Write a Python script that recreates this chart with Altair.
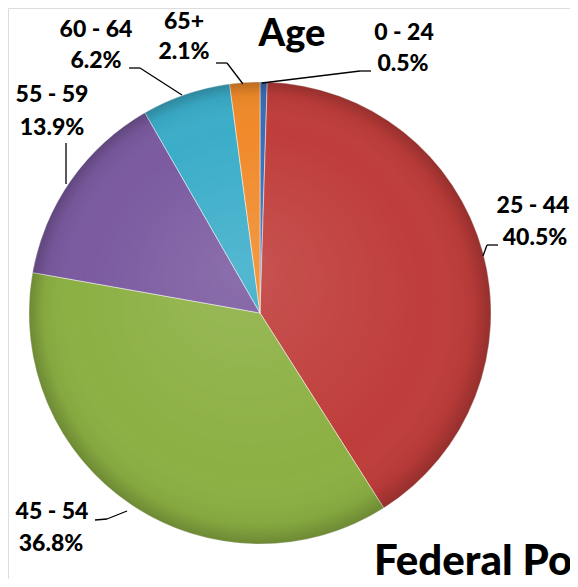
import altair as alt
import pandas as pd

# ---- data ----
ages = ["0 - 24", "25 - 44", "45 - 54", "55 - 59", "60 - 64", "65+"]
shares = [0.5, 40.5, 36.8, 13.9, 6.2, 2.1]
share_labels = ["0.5%", "40.5%", "36.8%", "13.9%", "6.2%", "2.1%"]
colors = ["#3a6db5", "#bf3d3a", "#8cb043", "#7b5aa0", "#3badc9", "#f08a2a"]

# ---- layout / styling (page pixel coordinates, shifted by the 8px margin) ----
OFF = 8
CX, CY, R = 260 - OFF, 313 - OFF, 231
FONT = "Lato"

# label anchor: (centre x, baseline y) for line 1 and line 2
lab_pos = {
    "0 - 24": ((404, 40), (403, 71)),
    "25 - 44": ((533, 213), (535, 245)),
    "45 - 54": ((52, 519), (51, 551)),
    "55 - 59": ((52, 102), (52, 135)),
    "60 - 64": ((96, 37), (96, 68)),
    "65+": ((184, 29), (184, 59)),
}
# leader polylines
leaders = {
    "0 - 24": [(262, 83), (360, 71), (371, 71)],
    "25 - 44": [(483, 256), (487, 245), (498, 245)],
    "45 - 54": [(127, 511), (107, 519), (95, 520)],
    "55 - 59": [(66, 184), (66, 143)],
    "60 - 64": [(182, 95), (140, 68), (129, 68)],
    "65+": [(243, 84), (227, 63), (216, 63)],
}

df = pd.DataFrame({"age": ages, "share": shares, "idx": range(len(ages)),
                   "label": share_labels})

lab_rows = []
for a, s in zip(ages, share_labels):
    (x1, y1), (x2, y2) = lab_pos[a]
    lab_rows.append({"t": a, "x": x1 - OFF, "y": y1 - OFF})
    lab_rows.append({"t": s, "x": x2 - OFF, "y": y2 - OFF})
labs = pd.DataFrame(lab_rows)

seg_rows = []
for a, pts in leaders.items():
    for (xa, ya), (xb, yb) in zip(pts[:-1], pts[1:]):
        seg_rows.append({"x": xa - OFF, "y": ya - OFF, "x2": xb - OFF, "y2": yb - OFF})
segs = pd.DataFrame(seg_rows)

pie = alt.Chart(df).mark_arc(outerRadius=R, stroke="#ffffff", strokeWidth=0.8,
                             strokeOpacity=0.6).encode(
    theta=alt.Theta("share:Q", stack=True),
    order=alt.Order("idx:Q"),
    color=alt.Color("age:N", scale=alt.Scale(domain=ages, range=colors), legend=None),
    x=alt.value(CX), y=alt.value(CY),
)

shade = alt.Chart(pd.DataFrame({"a": [0]})).mark_arc(
    outerRadius=R, theta=0, theta2=6.2832,
    color=alt.RadialGradient(
        gradient="radial", x1=0.45, y1=0.4, x2=0.5, y2=0.5, r1=0, r2=0.5,
        stops=[alt.GradientStop(offset=0, color="rgba(255,255,255,0.12)"),
               alt.GradientStop(offset=0.75, color="rgba(255,255,255,0)"),
               alt.GradientStop(offset=0.93, color="rgba(0,0,0,0.05)"),
               alt.GradientStop(offset=1, color="rgba(0,0,0,0.22)")]),
).encode(x=alt.value(CX), y=alt.value(CY))

lines = alt.Chart(segs).mark_rule(color="#000000", strokeWidth=1.3).encode(
    x=alt.X("x:Q", scale=None), y=alt.Y("y:Q", scale=None),
    x2="x2:Q", y2="y2:Q",
)

texts = alt.Chart(labs).mark_text(font=FONT, fontWeight=900, fontSize=23,
                                  color="#000000", align="center",
                                  baseline="alphabetic").encode(
    x=alt.X("x:Q", scale=None), y=alt.Y("y:Q", scale=None), text="t:N",
)

title = alt.Chart(pd.DataFrame({"t": ["Age"]})).mark_text(
    font=FONT, fontWeight=900, fontSize=38, color="#000000",
    align="center", baseline="alphabetic").encode(
    x=alt.value(292 - OFF), y=alt.value(46 - OFF), text="t:N")

footer = alt.Chart(pd.DataFrame({"t": ["Federal Population"]})).mark_text(
    font=FONT, fontWeight=900, fontSize=42, color="#000000",
    align="left", baseline="alphabetic").encode(
    x=alt.value(374 - OFF), y=alt.value(575 - OFF), text="t:N")

chart = alt.layer(pie, shade, lines, texts, title, footer).properties(
    width=562, height=571, autosize=alt.AutoSizeParams(type="none"), padding=0,
).configure_view(stroke=None).configure(background="#ffffff")

chart.save("out.html", embed_options={"renderer": "svg", "actions": False})
